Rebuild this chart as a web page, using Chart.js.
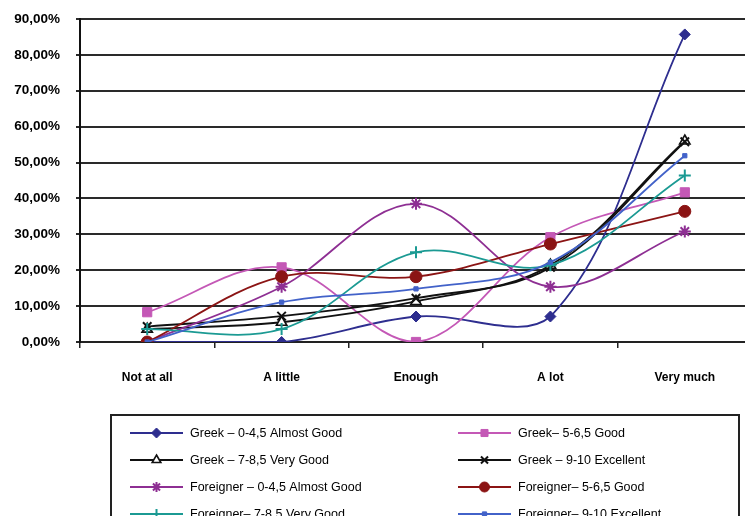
<!DOCTYPE html>
<html>
<head>
<meta charset="utf-8">
<title>Grade groups and answers</title>
<script src="https://cdn.jsdelivr.net/npm/chart.js@4/dist/chart.umd.min.js"></script>
<style>
  html, body { margin: 0; padding: 0; background: #fff; overflow: hidden; }
  #wrap { width: 745px; height: 516px; overflow: hidden; }
  canvas { display: block; }
</style>
</head>
<body>
<div id="wrap"><canvas id="c" width="760" height="516"></canvas></div>
<script>
// Answer categories on the x axis
const categories = ['Not at all', 'A little', 'Enough', 'A lot', 'Very much'];

// Percentages per grade group
const greekAlmostGood      = [0, 0, 7.1, 7.1, 85.7];
const greekGood            = [8.3, 20.8, 0, 29.2, 41.7];
const greekVeryGood        = [3.6, 5.5, 11.3, 21.4, 56.0];
const greekExcellent       = [4.3, 7.2, 12.2, 20.8, 55.8];
const foreignerAlmostGood  = [0, 15.4, 38.5, 15.4, 30.8];
const foreignerGood        = [0, 18.2, 18.2, 27.3, 36.4];
const foreignerVeryGood    = [3.6, 3.6, 25.0, 21.4, 46.4];
const foreignerExcellent   = [0, 11.1, 14.8, 22.2, 51.9];

// Series names
const seriesNames = [
  'Greek \u2013 0-4,5 Almost Good',
  'Greek\u2013 5-6,5 Good',
  'Greek \u2013 7-8,5 Very Good',
  'Greek \u2013 9-10 Excellent',
  'Foreigner \u2013 0-4,5 Almost Good',
  'Foreigner\u2013 5-6,5 Good',
  'Foreigner\u2013 7-8,5 Very Good',
  'Foreigner\u2013 9-10 Excellent'
];

// Y axis range
const yMin = 0, yMax = 90, yStep = 10;

const seriesValues = [
  greekAlmostGood, greekGood, greekVeryGood, greekExcellent,
  foreignerAlmostGood, foreignerGood, foreignerVeryGood, foreignerExcellent
];

const styles = [
  { color: '#2e2e8f', point: 'rectRot',  radius: 5.5, fill: '#2e2e8f', bw: 1 },
  { color: '#c458b6', point: 'rect',     radius: 6.5, fill: '#c458b6', bw: 1 },
  { color: '#111111', point: 'triangle', radius: 6,   fill: '#ffffff', bw: 1.6 },
  { color: '#111111', point: 'crossRot', radius: 6,   fill: '#111111', bw: 2 },
  { color: '#8e2f93', point: 'star',     radius: 6,   fill: '#8e2f93', bw: 2 },
  { color: '#8b1414', point: 'circle',   radius: 6,   fill: '#8b1414', bw: 1 },
  { color: '#1b9a93', point: 'cross',    radius: 6,   fill: '#1b9a93', bw: 2 },
  { color: '#4262c9', point: 'rect',     radius: 3,   fill: '#4262c9', bw: 1 }
];

const datasets = seriesValues.map((vals, i) => ({
  label: seriesNames[i],
  data: vals,
  borderColor: styles[i].color,
  backgroundColor: styles[i].fill,
  borderWidth: 1.8,
  tension: 0.36,
  fill: false,
  pointStyle: styles[i].point,
  pointRadius: styles[i].radius,
  pointBackgroundColor: styles[i].fill,
  pointBorderColor: styles[i].color,
  pointBorderWidth: styles[i].bw,
  order: 8 - i
}));

// Boxed two-column legend under the plot
const boxLegend = {
  id: 'boxLegend',
  afterDraw(chart) {
    const ctx = chart.ctx;
    ctx.save();
    ctx.strokeStyle = '#222';
    ctx.lineWidth = 2;
    ctx.strokeRect(111, 415, 628, 140);
    const colX = [130, 458];
    const rowY0 = 433, rowStep = 27;
    ctx.font = '12.5px "Liberation Sans", Arial, sans-serif';
    ctx.textBaseline = 'middle';
    ctx.textAlign = 'left';
    chart.data.datasets.forEach((ds, i) => {
      const x = colX[i % 2];
      const y = rowY0 + Math.floor(i / 2) * rowStep;
      ctx.strokeStyle = ds.borderColor;
      ctx.lineWidth = 2;
      ctx.beginPath();
      ctx.moveTo(x, y);
      ctx.lineTo(x + 53, y);
      ctx.stroke();
      ctx.fillStyle = ds.pointBackgroundColor;
      ctx.strokeStyle = ds.pointBorderColor;
      ctx.lineWidth = ds.pointBorderWidth;
      Chart.helpers.drawPoint(ctx, {
        pointStyle: ds.pointStyle,
        radius: Math.min(ds.pointRadius, 5),
        rotation: 0,
        borderWidth: ds.pointBorderWidth
      }, x + 26.5, y);
      ctx.fillStyle = '#000';
      ctx.fillText(ds.label, x + 60, y + 1);
    });
    ctx.restore();
  }
};

new Chart(document.getElementById('c'), {
  type: 'line',
  data: { labels: categories, datasets },
  options: {
    responsive: false,
    animation: false,
    devicePixelRatio: 1,
    layout: { padding: { top: 19, left: 0, right: 4, bottom: 0 } },
    plugins: { legend: { display: false }, tooltip: { enabled: false } },
    scales: {
      x: {
        type: 'category',
        offset: true,
        grid: { offset: true, drawOnChartArea: false, drawTicks: true, tickLength: 6, color: '#222', lineWidth: 1.5 },
        border: { display: true, color: '#222', width: 2 },
        ticks: {
          color: '#000',
          font: { family: '"Liberation Sans", Arial, sans-serif', size: 12, weight: 'bold' },
          padding: 22,
          maxRotation: 0,
          autoSkip: false
        },
        afterFit(scale) {
          scale.height = 174;
          scale.paddingLeft = 0;
          scale.paddingRight = 0;
        }
      },
      y: {
        min: yMin,
        max: yMax,
        grid: { color: '#2a2a2a', lineWidth: 2, tickLength: 4 },
        border: { display: true, color: '#111', width: 2 },
        ticks: {
          stepSize: yStep,
          color: '#000',
          padding: 16,
          font: { family: '"Liberation Sans", Arial, sans-serif', size: 13.5, weight: 'bold' },
          callback: v => v.toFixed(2).replace('.', ',') + '%'
        },
        afterFit(scale) {
          scale.width = 80;
          scale.paddingTop = 0;
          scale.paddingBottom = 0;
        }
      }
    }
  },
  plugins: [boxLegend]
});
</script>
</body>
</html>
